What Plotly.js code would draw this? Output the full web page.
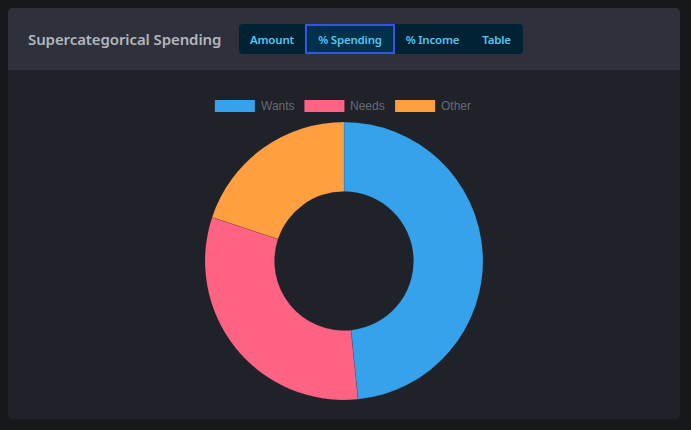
<!DOCTYPE html>
<html><head><meta charset="utf-8">
<script src="https://cdn.plot.ly/plotly-3.0.1.min.js"></script>
<style>
html,body{margin:0;padding:0;background:#17181c;width:691px;height:430px;overflow:hidden;font-family:"Noto Sans",sans-serif;}
#card{position:absolute;left:8px;top:8px;width:672px;height:411px;background:#20222a;border-radius:5px;overflow:hidden;}
#hdr{position:absolute;left:0;top:0;width:672px;height:62px;background:#2e313b;}
#title{position:absolute;left:20px;top:21px;font-size:15px;font-weight:600;color:#b3b6bd;white-space:nowrap;letter-spacing:-0.1px;}
#btns{position:absolute;left:231px;top:16px;height:30px;background:#012232;border-radius:4px;display:flex;}
.b{height:30px;line-height:32px;font-size:11.5px;font-weight:600;color:#55c6f4;text-align:center;box-sizing:border-box;font-family:"Noto Sans",sans-serif;letter-spacing:-0.2px;}
.act{border:2px solid #3454e6;background:#00314a;line-height:28px;}
#plot{position:absolute;left:0;top:62px;width:672px;height:349px;}
</style></head><body>
<div id="card">
  <div id="hdr">
    <div id="title">Supercategorical Spending</div>
    <div id="btns"></div>
  </div>
  <div id="plot"></div>
</div>
<script>
const buttonLabels = ["Amount", "% Spending", "% Income", "Table"];
const categories = ["Wants", "Needs", "Other"];
const shares = [48.4, 31.7, 19.9];
const colors = ["#36a2eb", "#ff6384", "#ff9f40"];

const widths = [66, 90, 75, 53];
const bt = document.getElementById('btns');
buttonLabels.forEach((t, i) => {
  const d = document.createElement('div');
  d.className = 'b' + (i === 1 ? ' act' : '');
  d.style.width = widths[i] + 'px';
  d.textContent = t;
  bt.appendChild(d);
});

const W = 672, H = 349, T = 52, B = 19;
const cv = document.createElement('canvas').getContext('2d');
cv.font = '12px "Liberation Sans", Arial';
const boxW = 40, boxH = 12, pad = 10, gap = 6;
const itemW = categories.map(c => boxW + gap + cv.measureText(c).width);
const total = itemW.reduce((a, b) => a + b, 0) + pad * (categories.length - 1);
let x = W / 2 - total / 2 - 1;
const shapes = [], annotations = [];
const ph = H - T - B;
const py = v => 1 - (v - T) / ph;
const legTop = 30;
categories.forEach((c, i) => {
  shapes.push({type: 'rect', xref: 'paper', yref: 'paper',
    x0: x / W, x1: (x + boxW) / W, y0: py(legTop + boxH), y1: py(legTop),
    fillcolor: colors[i], line: {width: 0}});
  annotations.push({xref: 'paper', yref: 'paper', x: (x + boxW + gap - 2) / W, y: py(legTop + boxH / 2),
    xanchor: 'left', yanchor: 'middle', showarrow: false, text: c,
    font: {family: '"Liberation Sans", Arial, sans-serif', size: 12, color: '#666a70'}});
  x += itemW[i] + pad;
});

Plotly.newPlot('plot', [{
  type: 'pie', labels: categories, values: shares, hole: 0.5, sort: false,
  direction: 'clockwise', rotation: 0, textinfo: 'none', hoverinfo: 'label+percent',
  marker: {colors: colors, line: {color: 'rgba(32,34,42,0.25)', width: 0.6}}
}], {
  width: W, height: H, showlegend: false,
  margin: {l: 0, r: 0, t: T, b: B},
  paper_bgcolor: 'rgba(0,0,0,0)', plot_bgcolor: 'rgba(0,0,0,0)',
  shapes: shapes, annotations: annotations
}, {displayModeBar: false, staticPlot: true});
</script>
</body></html>
